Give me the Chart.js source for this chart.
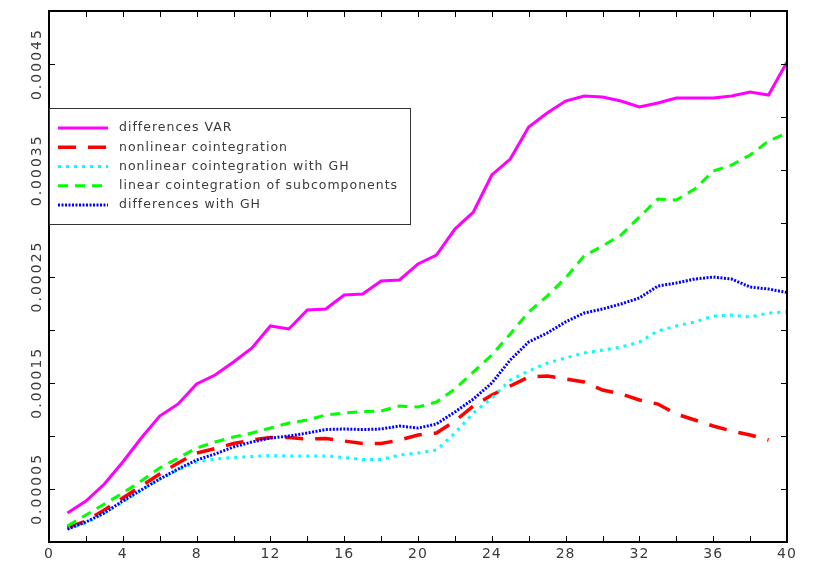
<!DOCTYPE html>
<html><head><meta charset="utf-8">
<script src="https://cdn.jsdelivr.net/npm/chart.js@4.4.0/dist/chart.umd.min.js"></script>
<style>html,body{margin:0;padding:0;background:#fff}#wrap{width:820px;height:580px}</style>
</head><body><div id="wrap"><canvas id="c" width="820" height="580"></canvas></div>
<script>
const horizons = [1,2,3,4,5,6,7,8,9,10,11,12,13,14,15,16,17,18,19,20,21,22,23,24,25,26,27,28,29,30,31,32,33,34,35,36,37,38,39,40];
const differencesVAR = [2.73e-5,3.86e-5,5.46e-5,7.53e-5,9.79e-5,1.186e-4,1.30e-4,1.488e-4,1.572e-4,1.695e-4,1.827e-4,2.034e-4,2.006e-4,2.185e-4,2.194e-4,2.326e-4,2.335e-4,2.458e-4,2.467e-4,2.618e-4,2.702e-4,2.947e-4,3.107e-4,3.456e-4,3.606e-4,3.908e-4,4.039e-4,4.152e-4,4.20e-4,4.19e-4,4.152e-4,4.096e-4,4.134e-4,4.181e-4,4.181e-4,4.181e-4,4.20e-4,4.237e-4,4.209e-4,4.52e-4];
const nonlinearCoint = [1.32e-5,1.98e-5,3.01e-5,4.14e-5,5.27e-5,6.40e-5,7.44e-5,8.38e-5,8.8e-5,9.27e-5,9.6e-5,9.84e-5,9.84e-5,9.7e-5,9.74e-5,9.51e-5,9.27e-5,9.27e-5,9.6e-5,1.008e-4,1.026e-4,1.139e-4,1.281e-4,1.384e-4,1.469e-4,1.554e-4,1.563e-4,1.535e-4,1.507e-4,1.431e-4,1.394e-4,1.337e-4,1.299e-4,1.205e-4,1.149e-4,1.092e-4,1.045e-4,1.008e-4,9.6e-5,null];
const nonlinearCointGH = [1.22e-5,1.79e-5,2.73e-5,3.77e-5,4.9e-5,5.93e-5,6.78e-5,7.53e-5,7.82e-5,7.96e-5,8.05e-5,8.14e-5,8.1e-5,8.1e-5,8.1e-5,7.96e-5,7.77e-5,7.77e-5,8.19e-5,8.38e-5,8.66e-5,1.026e-4,1.215e-4,1.356e-4,1.525e-4,1.61e-4,1.685e-4,1.733e-4,1.78e-4,1.808e-4,1.836e-4,1.883e-4,1.987e-4,2.034e-4,2.072e-4,2.128e-4,2.137e-4,2.119e-4,2.156e-4,2.166e-4];
const linearCointSub = [1.51e-5,2.54e-5,3.58e-5,4.61e-5,5.74e-5,6.97e-5,7.91e-5,8.85e-5,9.42e-5,9.89e-5,1.026e-4,1.073e-4,1.12e-4,1.149e-4,1.196e-4,1.215e-4,1.229e-4,1.234e-4,1.281e-4,1.271e-4,1.318e-4,1.441e-4,1.601e-4,1.761e-4,1.959e-4,2.166e-4,2.316e-4,2.486e-4,2.693e-4,2.787e-4,2.891e-4,3.06e-4,3.23e-4,3.22e-4,3.324e-4,3.493e-4,3.55e-4,3.644e-4,3.776e-4,3.851e-4];
const differencesGH = [1.22e-5,1.88e-5,2.73e-5,3.86e-5,4.90e-5,5.93e-5,6.87e-5,7.72e-5,8.29e-5,8.95e-5,9.42e-5,9.79e-5,9.98e-5,1.026e-4,1.059e-4,1.064e-4,1.059e-4,1.064e-4,1.092e-4,1.073e-4,1.111e-4,1.224e-4,1.346e-4,1.497e-4,1.714e-4,1.883e-4,1.968e-4,2.072e-4,2.156e-4,2.194e-4,2.241e-4,2.298e-4,2.41e-4,2.439e-4,2.476e-4,2.495e-4,2.476e-4,2.401e-4,2.382e-4,2.349e-4];
const seriesLabels = ['differences VAR','nonlinear cointegration','nonlinear cointegration with GH','linear cointegration of subcomponents','differences with GH'];
const xTickLabels = ['0','4','8','12','16','20','24','28','32','36','40'];
const yTickLabels = ['0.00005','0.00015','0.00025','0.00035','0.00045'];

function pts(arr){ return horizons.map((h,i)=>({x:h,y:arr[i]})); }

const TXT = '#3a3a3a';
const FONT = '"DejaVu Sans", sans-serif';

const framePlugin = {
  id:'frame',
  afterDatasetsDraw(chart){
    const ctx = chart.ctx, a = chart.chartArea;
    const xs = chart.scales.x, ys = chart.scales.y;
    ctx.save();
    ctx.strokeStyle = '#000'; ctx.lineWidth = 1;
    for (let v = 2; v < 40; v += 2){
      const px = Math.round(xs.getPixelForValue(v)) + 0.5;
      ctx.beginPath(); ctx.moveTo(px, a.bottom); ctx.lineTo(px, a.bottom-6);
      ctx.moveTo(px, a.top); ctx.lineTo(px, a.top+6); ctx.stroke();
    }
    for (let k = 1; k < 10; k++){
      const py = Math.round(ys.getPixelForValue(k*0.00005)) + 0.5;
      ctx.beginPath(); ctx.moveTo(a.left, py); ctx.lineTo(a.left+6, py);
      ctx.moveTo(a.right, py); ctx.lineTo(a.right-6, py); ctx.stroke();
    }
    ctx.lineWidth = 2;
    ctx.strokeRect(a.left, a.top, a.right-a.left, a.bottom-a.top);
    ctx.fillStyle = TXT; ctx.font = '14px '+FONT; ctx.textBaseline='top';
    ctx.letterSpacing = '1px';
    ctx.textAlign='center';
    xTickLabels.forEach(l=>{ ctx.fillText(l, xs.getPixelForValue(parseFloat(l)), a.bottom+5); });
    ctx.letterSpacing = '2px';
    yTickLabels.forEach(l=>{
      const py = ys.getPixelForValue(parseFloat(l));
      ctx.save(); ctx.translate(37, py); ctx.rotate(-Math.PI/2);
      ctx.textAlign='center'; ctx.textBaseline='middle'; ctx.fillText(l,0,0); ctx.restore();
    });
    const bx = a.left, by = 108, bw = 410-a.left, bh = 116;
    ctx.fillStyle='#fff'; ctx.fillRect(bx,by,bw,bh);
    ctx.strokeStyle='#333'; ctx.lineWidth=1;
    ctx.strokeRect(bx+0.5,by+0.5,bw,bh);
    ctx.font='12.5px '+FONT; ctx.letterSpacing='1px'; ctx.textAlign='left'; ctx.textBaseline='middle';
    chart.data.datasets.forEach((ds,i)=>{
      const yy = 128 + i*19.25;
      ctx.save();
      ctx.strokeStyle = ds.borderColor; ctx.lineWidth = ds.borderWidth;
      ctx.setLineDash(ds.borderDash||[]);
      ctx.beginPath(); ctx.moveTo(58,yy); ctx.lineTo(108,yy); ctx.stroke();
      ctx.restore();
      ctx.fillStyle = TXT; ctx.fillText(ds.label, 119, yy);
    });
    ctx.restore();
  }
};

const mk = (label, data, color, dash, w, order) => ({
  label, data: pts(data), borderColor: color, backgroundColor: color, borderWidth: w,
  borderDash: dash, pointRadius: 0, tension: 0, fill: false, spanGaps: false, order
});

new Chart(document.getElementById('c'), {
  type:'line',
  data:{ datasets:[
    mk(seriesLabels[0], differencesVAR, '#ff00ff', [], 3, 5),
    mk(seriesLabels[1], nonlinearCoint, '#ff0000', [18,12], 3.5, 4),
    mk(seriesLabels[2], nonlinearCointGH, '#00ffff', [3,5], 3, 3),
    mk(seriesLabels[3], linearCointSub, '#00ff00', [10,7], 3, 2),
    mk(seriesLabels[4], differencesGH, '#0000ff', [2,1.5], 3, 1)
  ]},
  options:{
    responsive:false, devicePixelRatio:1, animation:false,
    layout:{ padding:{ left:49, right:33, top:11, bottom:38 } },
    plugins:{ legend:{display:false}, tooltip:{enabled:false} },
    scales:{
      x:{ type:'linear', min:0, max:40, display:false },
      y:{ type:'linear', min:0, max:0.0005, display:false }
    }
  },
  plugins:[framePlugin]
});
</script></body></html>
